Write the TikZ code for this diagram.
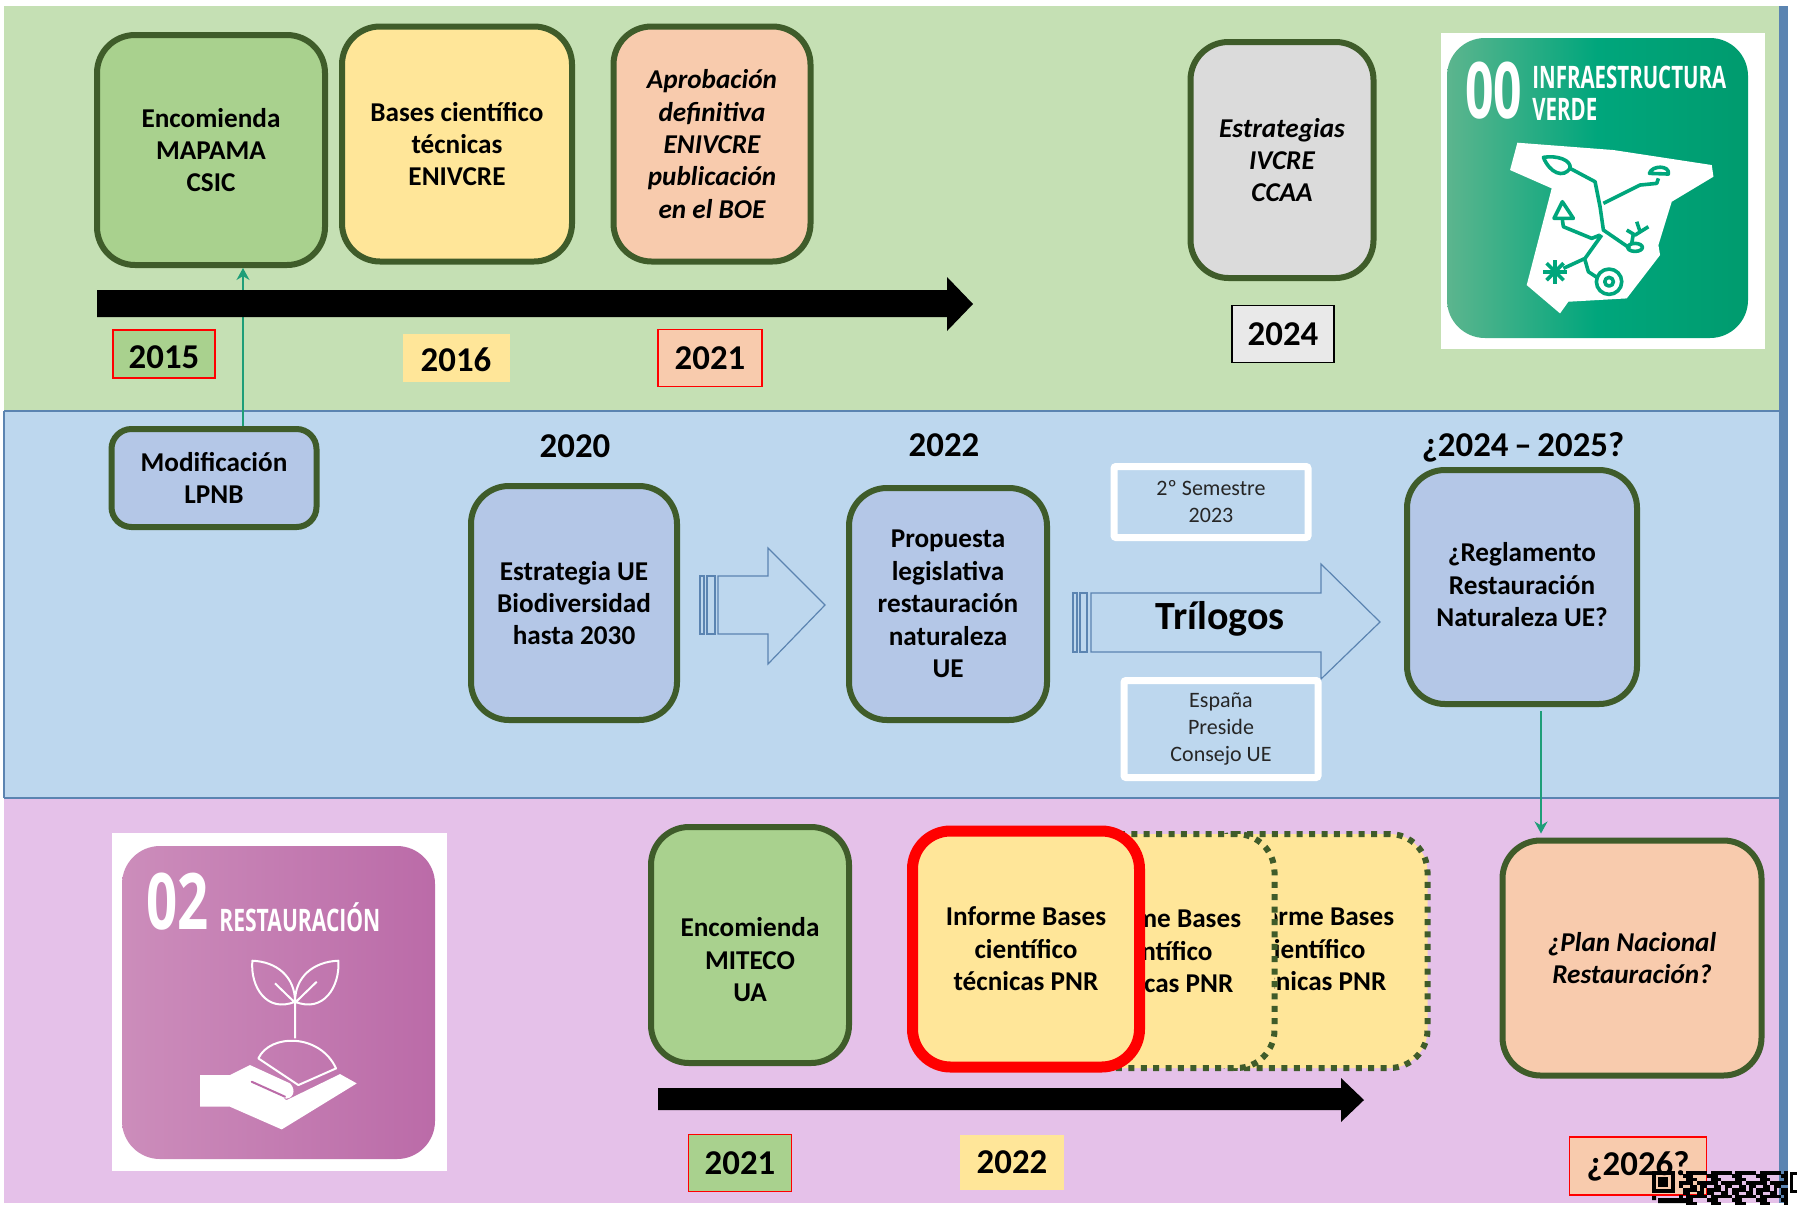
\documentclass[tikz,border=0pt]{standalone}
\usepackage{fontspec}
\setmainfont{Carlito}
\usetikzlibrary{arrows.meta}
\definecolor{bandgreen}{HTML}{C5E0B4}
\definecolor{bandblue}{HTML}{BDD7EE}
\definecolor{bandpink}{HTML}{E5C1E9}
\definecolor{edgeblue}{HTML}{5B84B1}
\definecolor{boxedge}{HTML}{3F5C2A}
\definecolor{boxgreen}{HTML}{A9D18E}
\definecolor{boxyellow}{HTML}{FFE699}
\definecolor{boxsalmon}{HTML}{F8CBAD}
\definecolor{boxgrey}{HTML}{DBDBDB}
\definecolor{boxblue}{HTML}{B4C7E7}
\definecolor{linkgreen}{HTML}{1E9E78}
\definecolor{logogreen}{HTML}{00A67C}
\definecolor{logogreenl}{HTML}{5CB58E}
\definecolor{logogreenr}{HTML}{009B6E}
\definecolor{logopinkl}{HTML}{CC8DBB}
\definecolor{logopinkr}{HTML}{BB6BA8}
\tikzset{
  hito/.style={draw=boxedge,line width=3pt,rounded corners=19pt,align=center,
    font=\fontsize{13.6}{16.2}\selectfont\bfseries,inner sep=0pt},
  hitoit/.style={hito,font=\fontsize{13.6}{16.2}\selectfont\bfseries\itshape},
  hitopnr/.style={hito,fill=boxyellow,dash pattern=on 3pt off 3.2pt},
  size/.style 2 args={minimum width=#1*0.5pt,minimum height=#2*0.5pt},
  anyo/.style={font=\fontsize{17.4}{20}\selectfont\bfseries,inner sep=0pt},
  redanyo/.style={anyo,draw=red,line width=0.7pt},
  nota/.style={draw=white,line width=3.5pt,rounded corners=1pt,align=center,
    font=\fontsize{11}{13.5}\selectfont,text=black!85,inner sep=0pt},
  bloque/.style={draw=edgeblue,line width=0.6pt,fill=bandblue},
  enlace/.style={draw=linkgreen,line width=0.7pt,-{Stealth[length=6pt,width=6.5pt]}},
  logotxt/.style={text=white,inner sep=0pt},
}
\newfontfamily\logofont{Open Sans}
\begin{document}
\begin{tikzpicture}[x=0.5pt,y=-0.5pt]
  \useasboundingbox (0,0) rectangle (1797,1205);
  % bands
  \fill[bandgreen] (4,6) rectangle (1780,411);
  \fill[bandblue] (4,411) rectangle (1780,798);
  \fill[bandpink] (4,798) rectangle (1783,1203);
  \fill[edgeblue] (1779,6) rectangle (1788,1203);
  \draw[edgeblue,line width=0.6pt] (4,411) -- (1780,411) (4,798) -- (1780,798)
    (4,411) -- (4,798);

  % top row
  \node[hito,fill=boxgreen,size={228}{230}] (mapama) at (211,150)
    {Encomienda\\MAPAMA\\CSIC};
  \node[hito,fill=boxyellow,size={230}{235}] (bases) at (457,144)
    {Bases científico\\técnicas\\ENIVCRE};
  \node[hitoit,fill=boxsalmon,size={197}{235}] (boe) at (712,144)
    {Aprobación\\definitiva\\ENIVCRE\\publicación\\en el BOE};
  \node[hitoit,fill=boxgrey,size={183}{236}] (ivcre) at (1282,160)
    {Estrategias\\IVCRE\\CCAA};
  \node[hito,rounded corners=10pt,fill=boxblue,size={205}{98}] (lpnb) at (214,478)
    {Modificación\\LPNB};
  \draw[enlace] (lpnb.north -| 243,0) -- (mapama.south -| 243,0);
  \fill (97,290) -- (947,290) -- (947,277) -- (973,304) -- (947,331) -- (947,317)
    -- (97,317) -- cycle;
  \node[redanyo,fill=boxgreen,size={102}{48},text height=14.5pt,text depth=0pt] (a2015) at (164,354) {2015};
  \node[anyo,fill=boxyellow,size={107}{48},text height=13.5pt,text depth=0pt] (a2016) at (456,358) {2016};
  \node[redanyo,fill=boxsalmon,size={104}{57}] (a2021) at (710,358) {2021};
  \node[anyo,draw=black,line width=0.7pt,fill=boxgrey!60!white,size={102}{57}] (a2024)
    at (1283,334) {2024};

  % green logo
  \fill[white] (1441,33) rectangle (1765,349);
  \shade[left color=logogreenl,right color=logogreenr,middle color=logogreen,
    rounded corners=19pt] (1447,38) rectangle (1748,338);
  \node[logotxt,anchor=west] (cero) at (1465,91)
    {\logofont\fontsize{39}{39}\selectfont\bfseries\scalebox{.64}[1]{00}};
  \node[logotxt,anchor=west] (infra) at (1532,77)
    {\logofont\fontsize{15.5}{16}\selectfont\bfseries\scalebox{.66}[1]{INFRAESTRUCTURA}};
  \node[logotxt,anchor=west] (verde) at (1532,109)
    {\logofont\fontsize{15.5}{16}\selectfont\bfseries\scalebox{.66}[1]{VERDE}};
  \begin{scope}[shift={(1400,0)},x=0.1667pt,y=-0.1667pt]
    \fill[white] (352,428) -- (640,450) -- (935,495) -- (940,530) -- (815,605) -- (775,735)
      -- (780,765) -- (680,895) -- (505,905) -- (480,940) -- (380,855) -- (455,565)
      -- (330,510) -- cycle;
    \draw[logogreen,line width=1.8pt,line join=round]
      (510,505) -- (585,545) -- (600,620) -- (610,690) -- (690,745)
      (610,610) -- (720,555) -- (770,550) -- (775,535)
      (487,660) -- (490,680) -- (575,715) -- (600,705)
      (605,705) -- (555,775) -- (490,805)
      (555,780) -- (565,815) -- (595,835)
      (695,730) -- (700,700) (680,690) -- (705,705) -- (745,680) (710,665) -- (720,695);
    \draw[logogreen,line width=1.8pt,line join=round]
      (430,472) .. controls (470,465) and (515,480) .. (510,505)
        .. controls (490,535) and (450,520) .. cycle
      (487,605) -- (520,655) -- (462,655) -- cycle
      (748,520) .. controls (755,495) and (810,495) .. (805,522) -- cycle
      (705,742) ellipse (22 and 12)
      (627,845) circle (38) (627,845) circle (13);
    \foreach \a in {0,45,...,315} {
      \draw[logogreen,line width=1.8pt] (465,815) -- ++(\a:36);
    }
  \end{scope}

  % middle row
  \node[anyo] (a2020) at (575,446) {2020};
  \node[anyo] (a2022) at (944,445) {2022};
  \node[anyo] (a2425) at (1523,447) {¿2024\,--\,2025?};
  \node[hito,fill=boxblue,size={206}{234}] (ue2030) at (574,603)
    {Estrategia UE\\Biodiversidad\\hasta 2030};
  \node[hito,fill=boxblue,size={198}{232}] (propuesta) at (948,604)
    {Propuesta\\legislativa\\restauración\\naturaleza\\UE};
  \node[hito,fill=boxblue,size={230}{234}] (reglamento) at (1522,587)
    {¿Reglamento\\Restauración\\Naturaleza UE?\\[-14pt]};
  % block arrows
  \draw[bloque] (700,576) rectangle (704,634) (707,576) rectangle (715,634);
  \draw[bloque] (718,576) -- (768,576) -- (768,548) -- (825,605) -- (768,664) -- (768,634)
    -- (718,634) -- cycle;
  \draw[bloque] (1073,593) rectangle (1077,652) (1080,593) rectangle (1087,652);
  \draw[bloque] (1091,593) -- (1321,593) -- (1321,564) -- (1380,622) -- (1321,679)
    -- (1321,652) -- (1091,652) -- cycle;
  \node[font=\fontsize{20}{22}\selectfont\bfseries,inner sep=0pt] (trilogos) at (1220,619) {Trílogos};
  \node[nota,size={194}{71}] (semestre) at (1211,502) {2º Semestre\\2023};
  \node[nota,size={194}{97}] (espana) at (1221,729) {España\\Preside\\Consejo UE};

  % bottom row
  \node[hito,fill=boxgreen,size={198}{236}] (miteco) at (750,945)
    {~\\[8pt]Encomienda\\MITECO\\UA};
  \node[hitopnr,size={227}{234}] (pnrc) at (1314,951)
    {Informe Bases\\científico\\técnicas PNR\\[-14pt]};
  \node[hitopnr,size={227}{234}] (pnrb) at (1161,951)
    {Informe Bases\\científico\\técnicas PNR};
  \node[hito,draw=red,line width=5.5pt,fill=boxyellow,size={227}{236}] (pnra) at (1026,949)
    {Informe Bases\\científico\\técnicas PNR};
  \node[hitoit,fill=boxsalmon,size={259}{235}] (plan) at (1632,958)
    {¿Plan Nacional\\Restauración?};
  \draw[enlace] (reglamento.south -| 1541,0) ++(0,4) -- ([yshift=2pt]plan.north -| 1541,0);
  \fill (658,1088) -- (1341,1088) -- (1341,1078) -- (1364,1100) -- (1341,1122) -- (1341,1110)
    -- (658,1110) -- cycle;
  \node[redanyo,fill=boxgreen,size={103}{57}] (b2021) at (740,1163) {2021};
  \node[anyo,fill=boxyellow,size={104}{55}] (b2022) at (1012,1162) {2022};
  \node[redanyo,fill=boxsalmon,size={137}{58}] (b2026) at (1638,1166) {¿2026?};

  % pink logo
  \fill[white] (112,833) rectangle (447,1171);
  \shade[left color=logopinkl,right color=logopinkr,rounded corners=19pt]
    (122,846) rectangle (435,1159);
  \node[logotxt,anchor=west] (dos) at (146,902)
    {\logofont\fontsize{39}{39}\selectfont\bfseries\scalebox{.7}[1]{02}};
  \node[logotxt,anchor=west] (restaura) at (219,917)
    {\logofont\fontsize{15.5}{16}\selectfont\bfseries\scalebox{.68}[1]{RESTAURACIÓN}};
  \begin{scope}[shift={(90,820)},x=0.1667pt,y=-0.1667pt]
    \draw[white,line width=1pt,line join=round]
      (487,422) .. controls (560,425) and (615,470) .. (615,545)
        .. controls (530,580) and (480,500) .. cycle
      (745,422) .. controls (670,425) and (615,470) .. (615,545)
        .. controls (700,580) and (750,500) .. cycle
      (615,545) -- (615,655) (555,490) -- (615,548) -- (680,485)
      (505,715) .. controls (540,640) and (690,640) .. (738,745) -- (625,795) -- cycle;
    \fill[white] (330,765) -- (420,765) -- (480,735) -- (600,790)
      .. controls (620,810) and (610,840) .. (580,835) -- (490,795) -- (590,840)
      -- (750,762) -- (800,790) -- (575,928) -- (420,860) -- (330,860) -- cycle;
    \draw[logopinkr,line width=1pt,line cap=round] (485,785) -- (585,830);
  \end{scope}

  % qr
  \foreach \x in {0,...,30} {
    \foreach \y in {0,...,9} {
      \pgfmathtruncatemacro{\qrbit}{mod(\x*\x*3+\y*\y*5+\x*\y+\x,7)}
      \ifnum\qrbit<4
        \fill (1679+\x*3.5,1171+\y*3.4) rectangle ++(3.6,3.5);
      \fi
    }
  }
  \draw[line width=2pt] (1654,1173) rectangle (1673,1191);
  \fill (1658,1177) rectangle (1668,1187);
  \fill (1658,1198) rectangle (1690,1203) (1652,1196) rectangle (1656,1200);
  \draw[line width=1.5pt] (1797,1173) -- (1791,1173) -- (1791,1191) -- (1797,1191);
\end{tikzpicture}
\end{document}
